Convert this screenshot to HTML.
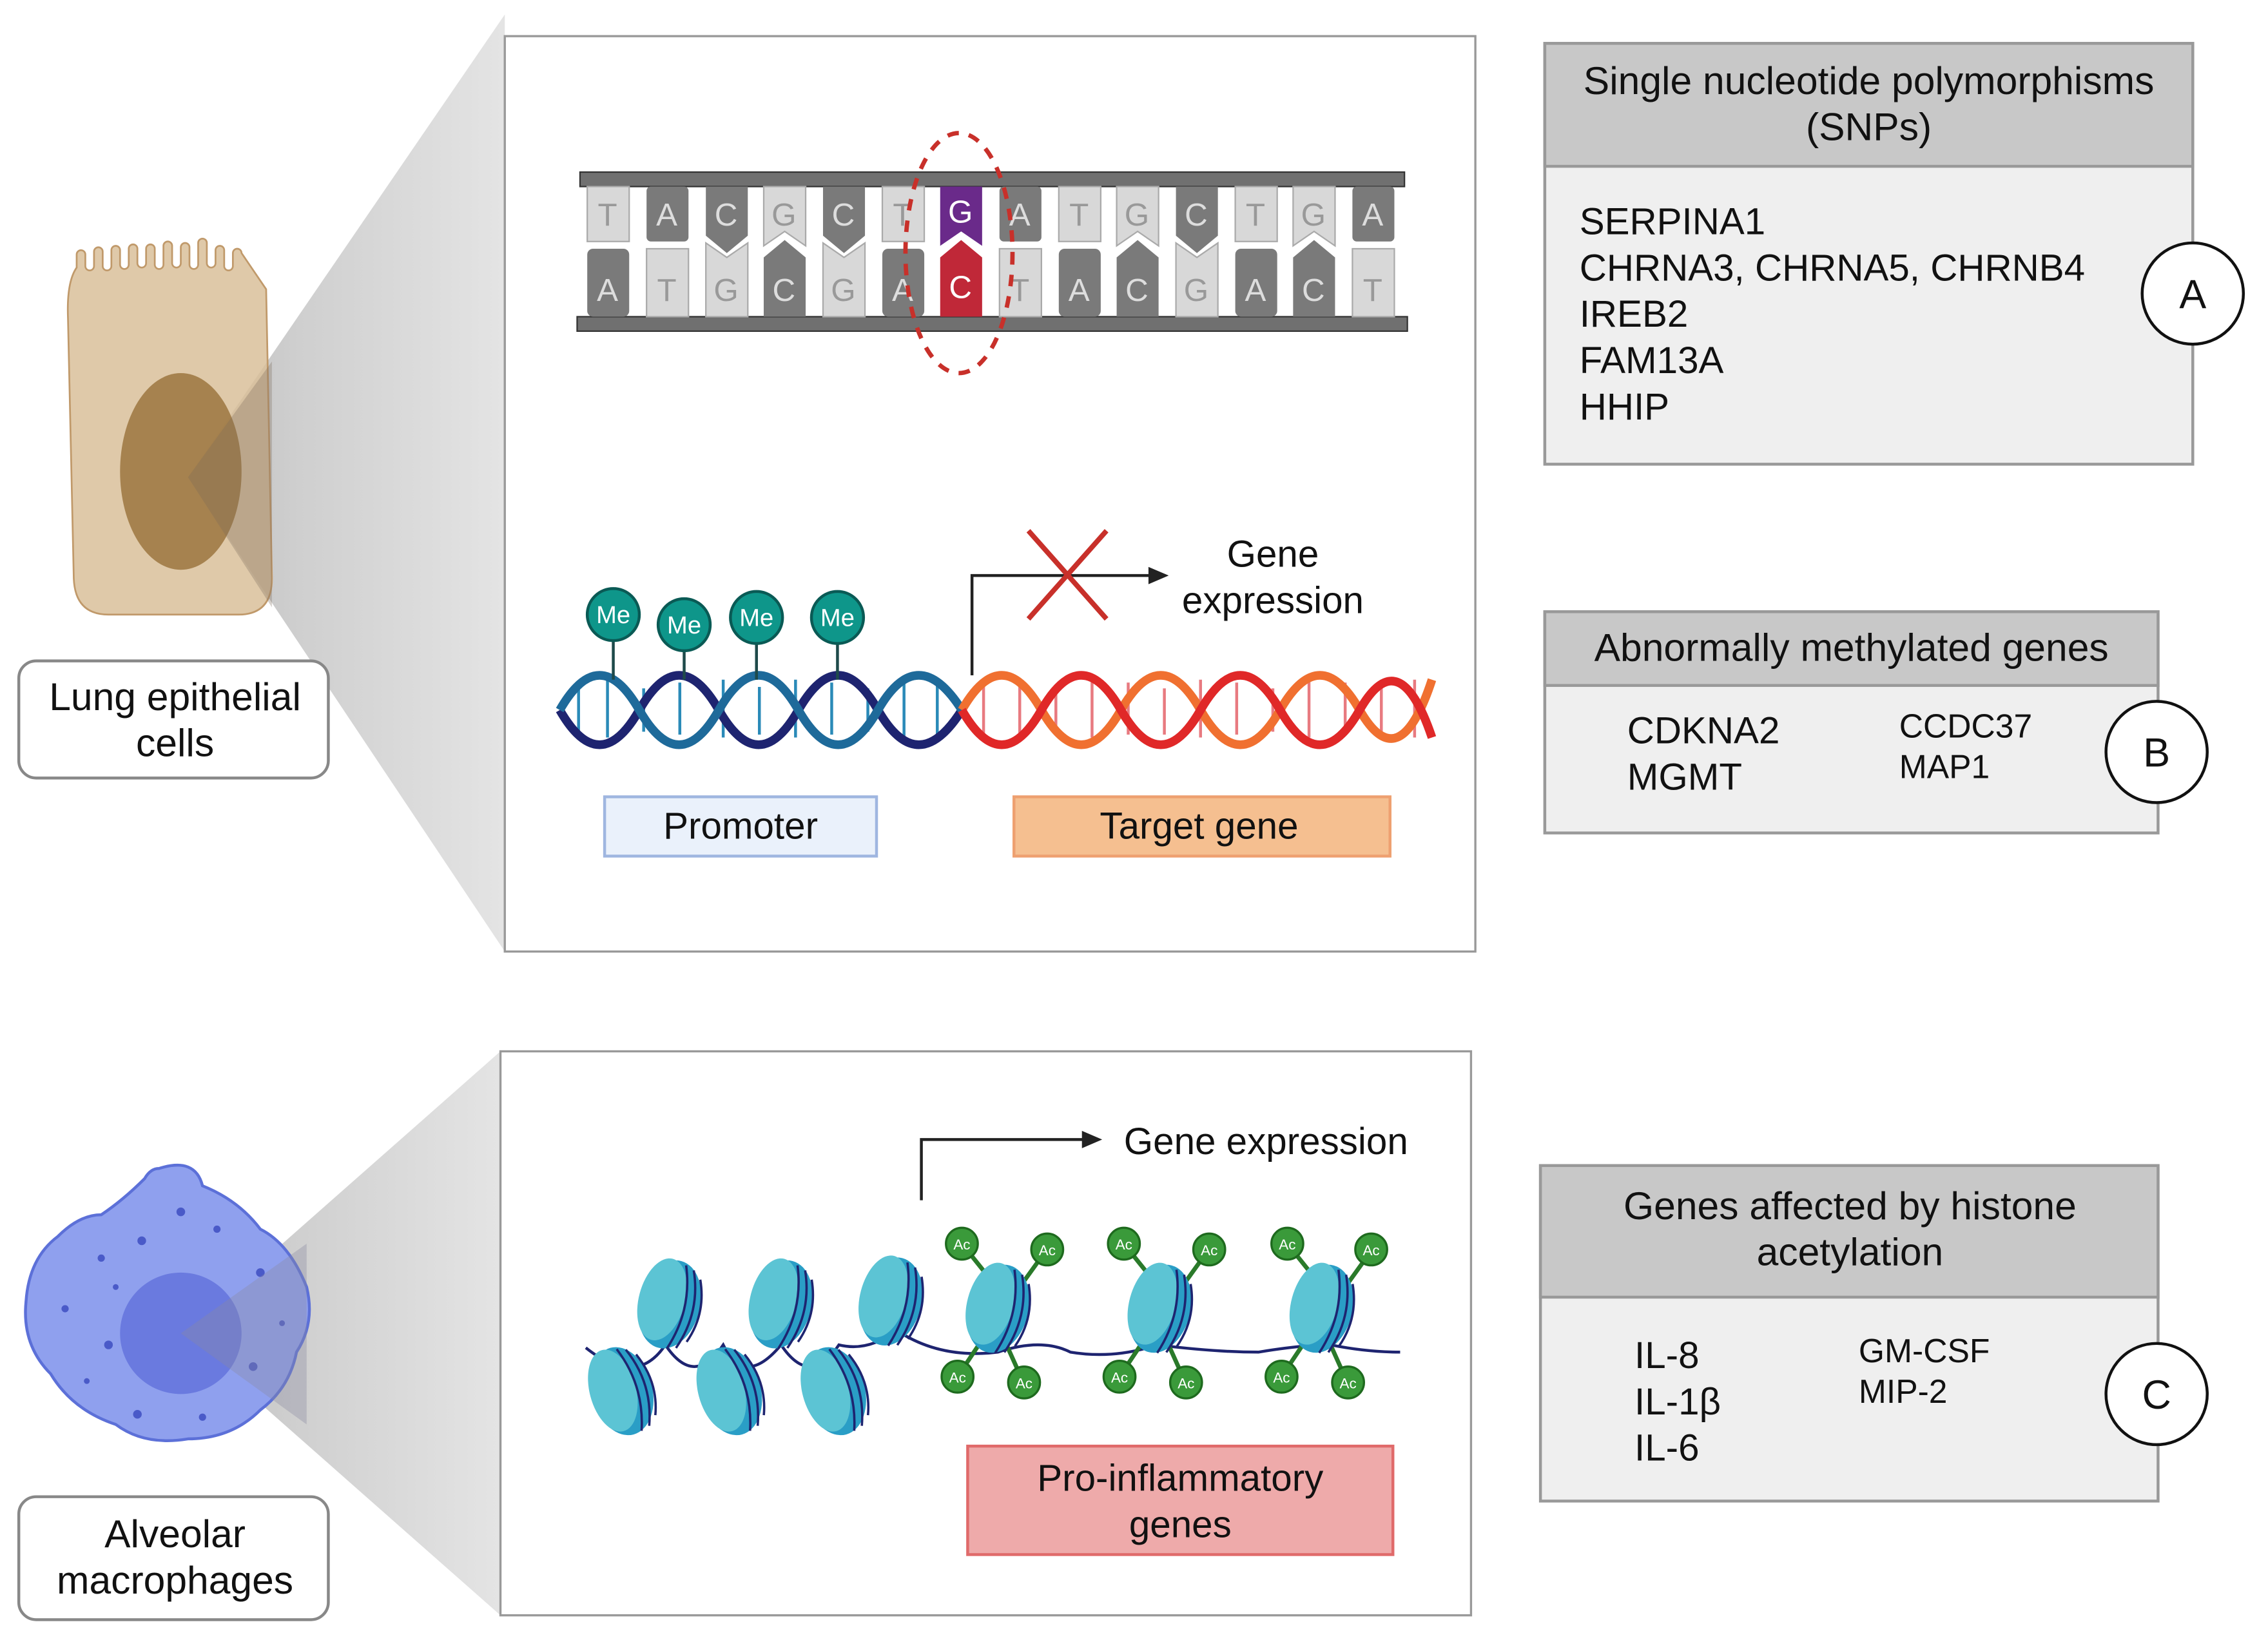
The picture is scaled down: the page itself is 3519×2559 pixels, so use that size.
<!DOCTYPE html>
<html><head><meta charset="utf-8"><style>
html,body{margin:0;padding:0;background:#fff}
svg{display:block}
text{font-family:"Liberation Sans",sans-serif;fill:#111}
</style></head><body>
<svg width="3519" height="2559" viewBox="0 0 1568 1140.3" preserveAspectRatio="none" xmlns="http://www.w3.org/2000/svg">
<defs>
<linearGradient id="fg" x1="0" y1="0" x2="1" y2="0">
<stop offset="0" stop-color="#a8a8a8" stop-opacity="0.6"/><stop offset="0.35" stop-color="#cfcfcf"/><stop offset="1" stop-color="#e4e4e4"/></linearGradient>
<g id="nuc">
<ellipse cx="0" cy="0" rx="21" ry="31" fill="#2a9ec6"/>
<ellipse cx="-6" cy="-2" rx="16" ry="29" fill="#5cc4d4"/>
<path d="M4,-29 Q16,0 6,30 M10,-27 Q22,0 12,28 M16,-22 Q26,0 18,22" stroke="#1e2470" stroke-width="1.6" fill="none"/>
</g>
<g id="ac"><circle r="11" fill="#3a9a3a" stroke="#1e6a1e" stroke-width="1.5"/><text x="0" y="4" font-size="10" text-anchor="middle" style="fill:#fff">Ac</text></g>
</defs>

<!-- funnels -->
<polygon points="130,330 349,10 349,658" fill="url(#fg)"/>
<polygon points="125,922 346,727 346,1117" fill="url(#fg)"/>

<!-- epithelial cell -->
<path d="M53,185 V176 a3,3 0 0 1 6,0 V184 a3,3 0 0 0 6,0 V174 a3,3 0 0 1 6,0 V184 a3,3 0 0 0 6,0 V173 a3,3 0 0 1 6,0 V183 a3,3 0 0 0 6,0 V172 a3,3 0 0 1 6,0 V182 a3,3 0 0 0 6,0 V172 a3,3 0 0 1 6,0 V183 a3,3 0 0 0 6,0 V170 a3,3 0 0 1 6,0 V182 a3,3 0 0 0 6,0 V171 a3,3 0 0 1 6,0 V183 a3,3 0 0 0 6,0 V168 a3,3 0 0 1 6,0 V182 a3,3 0 0 0 6,0 V173 a3,3 0 0 1 6,0 V184 a3,3 0 0 0 6,0 V175 a3,3 0 0 1 6,0 L184,200 L188,400 Q188,425 165,425 L75,425 Q52,425 51,400 L47,220 Q46,195 53,185 Z" fill="#d9c09a" fill-opacity="0.85" stroke="#c0996a" stroke-width="1.2"/>
<ellipse cx="125" cy="326" rx="42" ry="68" fill="#a07a45" fill-opacity="0.9"/>
<polygon points="130,330 188,250 188,420" fill="#7a6a5a" fill-opacity="0.3"/>

<!-- macrophage -->
<path d="M110,808 Q135,800 140,820 Q165,830 180,850 Q200,860 212,890 Q218,915 205,935 Q200,960 180,975 Q160,995 130,995 Q100,1000 80,985 Q50,975 35,950 Q15,930 18,900 Q20,870 40,855 Q55,840 70,840 Q85,830 100,815 Q104,808 110,808 Z" fill="#8fa0ee" stroke="#5c70d8" stroke-width="2"/>
<circle cx="125" cy="922" r="42" fill="#5a6ad8" fill-opacity="0.7"/>
<g fill="#4a5ac8"><circle cx="70" cy="870" r="2.5"/><circle cx="98" cy="858" r="3"/><circle cx="125" cy="838" r="3"/><circle cx="150" cy="850" r="2.5"/><circle cx="180" cy="880" r="3"/><circle cx="45" cy="905" r="2.5"/><circle cx="75" cy="930" r="3"/><circle cx="60" cy="955" r="2"/><circle cx="95" cy="978" r="3"/><circle cx="140" cy="980" r="2.5"/><circle cx="175" cy="945" r="3"/><circle cx="195" cy="915" r="2"/><circle cx="80" cy="890" r="2"/></g>
<polygon points="125,922 212,860 212,985" fill="#8a8aa0" fill-opacity="0.35"/>

<!-- labels -->
<rect x="13" y="457" width="214" height="81" rx="12" fill="#fff" stroke="#888" stroke-width="2"/>
<text x="121" y="491" font-size="27" text-anchor="middle">Lung epithelial</text>
<text x="121" y="523" font-size="27" text-anchor="middle">cells</text>
<rect x="13" y="1035" width="214" height="85" rx="12" fill="#fff" stroke="#888" stroke-width="2"/>
<text x="121" y="1070" font-size="27" text-anchor="middle">Alveolar</text>
<text x="121" y="1102" font-size="27" text-anchor="middle">macrophages</text>

<!-- top box -->
<rect x="349" y="25" width="671" height="633" fill="#fff" stroke="#999" stroke-width="1.5"/>
<rect x="401" y="119" width="570" height="10" fill="#707070" stroke="#333" stroke-width="1"/>
<rect x="399" y="219" width="574" height="10" fill="#707070" stroke="#333" stroke-width="1"/>
<g font-size="22" text-anchor="middle">
<g>
<rect x="406" y="129" width="29" height="38" fill="#d8d8d8" stroke="#aaa"/><text x="420" y="156" style="fill:#999">T</text>
<rect x="447" y="129" width="29" height="38" rx="3" fill="#7a7a7a"/><text x="461" y="156" style="fill:#ddd">A</text>
<path d="M488,129 h29 v34 l-14.5,12 l-14.5,-12z" fill="#7a7a7a"/><text x="502" y="156" style="fill:#ddd">C</text>
<path d="M528,129 h29 v41 l-14.5,-10 l-14.5,10z" fill="#d8d8d8" stroke="#aaa"/><text x="542" y="156" style="fill:#999">G</text>
<path d="M569,129 h29 v34 l-14.5,12 l-14.5,-12z" fill="#7a7a7a"/><text x="583" y="156" style="fill:#ddd">C</text>
<rect x="610" y="129" width="29" height="38" fill="#d8d8d8" stroke="#aaa"/><text x="624" y="156" style="fill:#999">T</text>
<path d="M650,129 h29 v41 l-14.5,-10 l-14.5,10z" fill="#6a2a8a"/><text x="664" y="154" style="fill:#fff">G</text>
<rect x="691" y="129" width="29" height="38" rx="3" fill="#7a7a7a"/><text x="705" y="156" style="fill:#ddd">A</text>
<rect x="732" y="129" width="29" height="38" fill="#d8d8d8" stroke="#aaa"/><text x="746" y="156" style="fill:#999">T</text>
<path d="M772,129 h29 v41 l-14.5,-10 l-14.5,10z" fill="#d8d8d8" stroke="#aaa"/><text x="786" y="156" style="fill:#999">G</text>
<path d="M813,129 h29 v34 l-14.5,12 l-14.5,-12z" fill="#7a7a7a"/><text x="827" y="156" style="fill:#ddd">C</text>
<rect x="854" y="129" width="29" height="38" fill="#d8d8d8" stroke="#aaa"/><text x="868" y="156" style="fill:#999">T</text>
<path d="M894,129 h29 v41 l-14.5,-10 l-14.5,10z" fill="#d8d8d8" stroke="#aaa"/><text x="908" y="156" style="fill:#999">G</text>
<rect x="935" y="129" width="29" height="38" rx="3" fill="#7a7a7a"/><text x="949" y="156" style="fill:#ddd">A</text>
</g>
<g>
<rect x="406" y="172" width="29" height="47" rx="4" fill="#7a7a7a"/><text x="420" y="208" style="fill:#ddd">A</text>
<rect x="447" y="172" width="29" height="47" fill="#d8d8d8" stroke="#aaa"/><text x="461" y="208" style="fill:#999">T</text>
<path d="M488,168 l14.5,10 l14.5,-10 v51 h-29z" fill="#d8d8d8" stroke="#aaa"/><text x="502" y="208" style="fill:#999">G</text>
<path d="M528,178 l14.5,-12 l14.5,12 v41 h-29z" fill="#7a7a7a"/><text x="542" y="208" style="fill:#ddd">C</text>
<path d="M569,168 l14.5,10 l14.5,-10 v51 h-29z" fill="#d8d8d8" stroke="#aaa"/><text x="583" y="208" style="fill:#999">G</text>
<rect x="610" y="172" width="29" height="47" rx="4" fill="#7a7a7a"/><text x="624" y="208" style="fill:#ddd">A</text>
<path d="M650,178 l14.5,-12 l14.5,12 v41 h-29z" fill="#c02838"/><text x="664" y="206" style="fill:#fff">C</text>
<rect x="691" y="172" width="29" height="47" fill="#d8d8d8" stroke="#aaa"/><text x="705" y="208" style="fill:#999">T</text>
<rect x="732" y="172" width="29" height="47" rx="4" fill="#7a7a7a"/><text x="746" y="208" style="fill:#ddd">A</text>
<path d="M772,178 l14.5,-12 l14.5,12 v41 h-29z" fill="#7a7a7a"/><text x="786" y="208" style="fill:#ddd">C</text>
<path d="M813,168 l14.5,10 l14.5,-10 v51 h-29z" fill="#d8d8d8" stroke="#aaa"/><text x="827" y="208" style="fill:#999">G</text>
<rect x="854" y="172" width="29" height="47" rx="4" fill="#7a7a7a"/><text x="868" y="208" style="fill:#ddd">A</text>
<path d="M894,178 l14.5,-12 l14.5,12 v41 h-29z" fill="#7a7a7a"/><text x="908" y="208" style="fill:#ddd">C</text>
<rect x="935" y="172" width="29" height="47" fill="#d8d8d8" stroke="#aaa"/><text x="949" y="208" style="fill:#999">T</text>
</g>
</g>
<ellipse cx="663" cy="175" rx="37" ry="83" fill="none" stroke="#c8302a" stroke-width="3" stroke-dasharray="8,7"/>

<!-- helix -->
<g stroke-width="2">
<path d="M400,472 v36 M420,470 v40 M445,476 v30 M470,472 v36 M500,470 v40 M525,475 v33 M550,470 v40 M575,472 v36 M600,476 v30 M625,470 v40 M648,472 v36" stroke="#2a8ab8"/>
<path d="M680,470 v40 M705,472 v36 M730,476 v30 M755,470 v40 M780,472 v36 M805,476 v32 M830,470 v40 M855,472 v36 M880,476 v30 M905,470 v40 M930,472 v36 M955,476 v32 M978,470 v40" stroke="#e87a80"/>
</g>
<path d="M387,491 Q414.5,539 442,491 T497,491 T552,491 T607,491 T665,491" fill="none" stroke="#1e2470" stroke-width="6"/>
<path d="M387,491 Q414.5,443 442,491 T497,491 T552,491 T607,491 T665,491" fill="none" stroke="#1e6a9a" stroke-width="6"/>
<path d="M665,491 Q692.5,443 720,491 T775,491 T830,491 T885,491 T940,491 T990,470" fill="none" stroke="#f07030" stroke-width="6"/>
<path d="M665,491 Q692.5,539 720,491 T775,491 T830,491 T885,491 T940,491 T990,510" fill="none" stroke="#e02828" stroke-width="6"/>
<g stroke="#1e4a4a" stroke-width="2"><line x1="424" y1="443" x2="424" y2="470"/><line x1="473" y1="450" x2="473" y2="470"/><line x1="523" y1="445" x2="523" y2="470"/><line x1="579" y1="445" x2="579" y2="470"/></g>
<g fill="#0e968a" stroke="#0a5a55" stroke-width="2">
<circle cx="424" cy="425" r="18"/><circle cx="473" cy="432" r="18"/><circle cx="523" cy="427" r="18"/><circle cx="579" cy="427" r="18"/></g>
<g font-size="17" text-anchor="middle"><text x="424" y="431" style="fill:#fff">Me</text><text x="473" y="438" style="fill:#fff">Me</text><text x="523" y="433" style="fill:#fff">Me</text><text x="579" y="433" style="fill:#fff">Me</text></g>
<path d="M672,467 V398 H796" fill="none" stroke="#222" stroke-width="2"/>
<polygon points="808,398 794,392 794,404" fill="#222"/>
<path d="M711,367 L765,428 M765,367 L711,428" stroke="#c8302a" stroke-width="3.5"/>
<text x="880" y="392" font-size="26" text-anchor="middle">Gene</text>
<text x="880" y="424" font-size="26" text-anchor="middle">expression</text>
<rect x="418" y="551" width="188" height="41" fill="#eaf1fb" stroke="#9fb6e0" stroke-width="2"/>
<text x="512" y="580" font-size="26" text-anchor="middle">Promoter</text>
<rect x="701" y="551" width="260" height="41" fill="#f5bf90" stroke="#eea070" stroke-width="2"/>
<text x="829" y="580" font-size="26" text-anchor="middle">Target gene</text>

<!-- bottom box -->
<rect x="346" y="727" width="671" height="390" fill="#fff" stroke="#999" stroke-width="1.5"/>
<path d="M637,830 V788 H750" fill="none" stroke="#222" stroke-width="2"/>
<polygon points="762,788 748,782 748,794" fill="#222"/>
<text x="777" y="798" font-size="26">Gene expression</text>
<path d="M405,932 Q440,960 460,930 Q480,960 500,930 Q515,960 540,930 Q560,960 580,930 Q600,935 620,920 Q650,940 690,935 Q720,925 740,935 Q770,940 800,930 Q840,935 870,935 Q900,930 920,930 Q945,935 968,935" fill="none" stroke="#1e2470" stroke-width="2"/>
<g stroke="#2a7a2a" stroke-width="3">
<path d="M665,860 L685,885 M723,865 L705,890 M662,952 L680,925 M708,957 L695,928"/>
<path d="M777,860 L797,885 M835,865 L817,890 M774,952 L792,925 M820,957 L807,928"/>
<path d="M890,860 L910,885 M948,865 L930,890 M886,952 L904,925 M932,957 L919,928"/>
</g>
<use href="#nuc" transform="translate(430,962) rotate(-15)"/>
<use href="#nuc" transform="translate(505,962) rotate(-15)"/>
<use href="#nuc" transform="translate(577,962) rotate(-15)"/>
<use href="#nuc" transform="translate(463,902) rotate(15)"/>
<use href="#nuc" transform="translate(540,902) rotate(15)"/>
<use href="#nuc" transform="translate(616,900) rotate(15)"/>
<use href="#nuc" transform="translate(690,905) rotate(15)"/>
<use href="#nuc" transform="translate(802,905) rotate(15)"/>
<use href="#nuc" transform="translate(914,905) rotate(15)"/>
<use href="#ac" x="665" y="860"/><use href="#ac" x="724" y="864"/><use href="#ac" x="662" y="952"/><use href="#ac" x="708" y="956"/>
<use href="#ac" x="777" y="860"/><use href="#ac" x="836" y="864"/><use href="#ac" x="774" y="952"/><use href="#ac" x="820" y="956"/>
<use href="#ac" x="890" y="860"/><use href="#ac" x="948" y="864"/><use href="#ac" x="886" y="952"/><use href="#ac" x="932" y="956"/>
<rect x="669" y="1000" width="294" height="75" fill="#eeaaaa" stroke="#e06a6a" stroke-width="2"/>
<text x="816" y="1031" font-size="26" text-anchor="middle">Pro-inflammatory</text>
<text x="816" y="1063" font-size="26" text-anchor="middle">genes</text>

<!-- right boxes -->
<rect x="1068" y="30" width="448" height="291" fill="#efefef" stroke="#999" stroke-width="2"/>
<rect x="1068" y="30" width="448" height="85" fill="#c8c8c8" stroke="#999" stroke-width="2"/>
<text x="1292" y="65" font-size="27" text-anchor="middle">Single nucleotide polymorphisms</text>
<text x="1292" y="97" font-size="27" text-anchor="middle">(SNPs)</text>
<g font-size="26"><text x="1092" y="162">SERPINA1</text><text x="1092" y="194">CHRNA3, CHRNA5, CHRNB4</text><text x="1092" y="226">IREB2</text><text x="1092" y="258">FAM13A</text><text x="1092" y="290">HHIP</text></g>

<rect x="1068" y="423" width="424" height="153" fill="#efefef" stroke="#999" stroke-width="2"/>
<rect x="1068" y="423" width="424" height="51" fill="#c8c8c8" stroke="#999" stroke-width="2"/>
<text x="1280" y="457" font-size="27" text-anchor="middle">Abnormally methylated genes</text>
<g font-size="26"><text x="1125" y="514">CDKNA2</text><text x="1125" y="546">MGMT</text></g>
<g font-size="23"><text x="1313" y="510">CCDC37</text><text x="1313" y="538">MAP1</text></g>

<rect x="1065" y="806" width="427" height="232" fill="#efefef" stroke="#999" stroke-width="2"/>
<rect x="1065" y="806" width="427" height="91" fill="#c8c8c8" stroke="#999" stroke-width="2"/>
<text x="1279" y="843" font-size="27" text-anchor="middle">Genes affected by histone</text>
<text x="1279" y="875" font-size="27" text-anchor="middle">acetylation</text>
<g font-size="26"><text x="1130" y="946">IL-8</text><text x="1130" y="978">IL-1β</text><text x="1130" y="1010">IL-6</text></g>
<g font-size="23"><text x="1285" y="942">GM-CSF</text><text x="1285" y="970">MIP-2</text></g>

<g fill="#fff" stroke="#111" stroke-width="2">
<circle cx="1516" cy="203" r="35"/><circle cx="1491" cy="520" r="35"/><circle cx="1491" cy="964" r="35"/></g>
<g font-size="28" text-anchor="middle"><text x="1516" y="213">A</text><text x="1491" y="530">B</text><text x="1491" y="974">C</text></g>
</svg>
</body></html>
